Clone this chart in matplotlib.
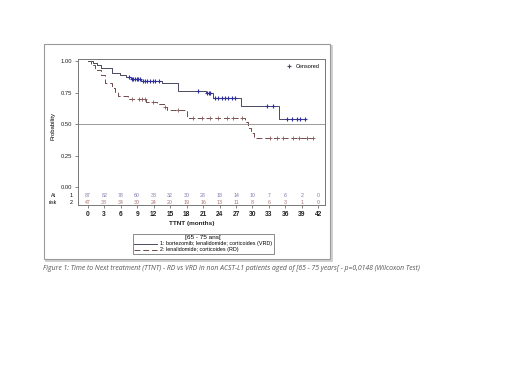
import numpy as np
import matplotlib
matplotlib.use("Agg")
import matplotlib.pyplot as plt
from matplotlib.lines import Line2D
from matplotlib.patches import Rectangle

# -----------------------------
# Data
# -----------------------------
# VRD arm (1: bortezomib, lenalidomide, corticoides)
times_vrd = [0, 0.9, 1.6, 2.5, 4.4, 5.9, 7.0, 7.9, 9.7, 13.6, 16.5, 21.6, 22.8, 27.9, 34.9]
surv_vrd = [1.0, 0.985, 0.97, 0.945, 0.905, 0.89, 0.878, 0.862, 0.844, 0.825, 0.766, 0.745, 0.706, 0.644, 0.538]
end_vrd = 39.5
censor_vrd = [7.6, 8.0, 8.3, 8.6, 8.9, 9.2, 9.5, 10.0, 10.4, 10.8, 11.3, 11.8, 12.3, 13.0,
              20.0, 21.7, 22.0, 22.3, 23.2, 23.8, 24.4, 25.0, 25.6, 26.2, 26.8,
              32.6, 33.8, 36.2, 37.2, 38.1, 38.7, 39.5]

# RD arm (2: lenalidomide, corticoides)
times_rd = [0, 0.6, 1.3, 2.5, 3.1, 4.4, 5.0, 5.6, 7.4, 10.7, 12.6, 13.8, 14.4, 18.0, 28.6, 29.2, 29.7, 30.3]
surv_rd = [1.0, 0.97, 0.935, 0.89, 0.83, 0.79, 0.758, 0.724, 0.697, 0.673, 0.657, 0.64, 0.61, 0.548,
           0.515, 0.47, 0.43, 0.386]
end_rd = 41.1
censor_rd = [8.1, 9.3, 9.9, 10.5, 11.8, 14.0, 16.5, 19.2, 20.8, 22.3, 23.8, 25.3, 26.5, 28.0,
             33.2, 34.4, 35.6, 37.4, 38.4, 39.9, 41.1]

# Numbers at risk
risk_times = [0, 3, 6, 9, 12, 15, 18, 21, 24, 27, 30, 33, 36, 39, 42]
risk_vrd = [87, 82, 78, 60, 38, 32, 30, 28, 18, 14, 10, 7, 6, 2, 0]
risk_rd = [47, 38, 34, 30, 24, 20, 19, 16, 13, 11, 8, 6, 3, 1, 0]

label_vrd = "1: bortezomib; lenalidomide; corticoides (VRD)"
label_rd = "2: lenalidomide; corticoides (RD)"
caption = ("Figure 1: Time to Next treatment (TTNT) - RD vs VRD in non ACST-L1 patients "
           "aged of [65 - 75 years[ - p=0,0148 (Wilcoxon Test)")

col_vrd = "#4a4a5e"
col_rd = "#6e4a4a"
col_cens_vrd = "#2f2fa0"
col_cens_rd = "#8a5a5a"


def surv_at(t, times, surv):
    idx = np.searchsorted(times, t, side="right") - 1
    return np.array(surv)[idx]


plt.rcParams["font.family"] = ["Liberation Sans", "DejaVu Sans"]

fig = plt.figure(figsize=(5.2, 3.68), dpi=100)

# outer frame with shadow (drawn behind the axes)
fig.add_artist(Rectangle((0.088, 0.291), 0.55, 0.584, transform=fig.transFigure,
                         fill=False, edgecolor="#c8c8c8", linewidth=1.2, zorder=-10))
fig.add_artist(Rectangle((0.0846, 0.296), 0.55, 0.584, transform=fig.transFigure,
                         facecolor="white", edgecolor="#9a9a9a", linewidth=0.8, zorder=-9))

ax = fig.add_axes([0.15, 0.443, 0.475, 0.397])
ax.set_facecolor("none")

# step curves
ax.step(times_vrd + [end_vrd], surv_vrd + [surv_vrd[-1]], where="post",
        color=col_vrd, linewidth=0.7)
ax.step(times_rd + [end_rd], surv_rd + [surv_rd[-1]], where="post",
        color=col_rd, linewidth=0.7, linestyle=(0, (6, 3)))

# censored marks
ax.plot(censor_vrd, surv_at(censor_vrd, times_vrd, surv_vrd), "+",
        color=col_cens_vrd, markersize=2.4, markeredgewidth=0.8)
ax.plot(censor_rd, surv_at(censor_rd, times_rd, surv_rd), "+",
        color=col_cens_rd, markersize=2.4, markeredgewidth=0.6)

ax.axhline(0.5, color="#8a8a8a", linewidth=0.6)

# numbers at risk inside the plot area
for t, n1, n2 in zip(risk_times, risk_vrd, risk_rd):
    ax.text(t, -0.072, str(n1), ha="center", va="center", fontsize=3.8, color="#7a7aa8")
    ax.text(t, -0.122, str(n2), ha="center", va="center", fontsize=3.8, color="#a87474")
ax.text(-6.3, -0.072, "At", ha="center", va="center", fontsize=3.8, clip_on=False)
ax.text(-6.3, -0.122, "risk", ha="center", va="center", fontsize=3.8, clip_on=False)
ax.text(-3.1, -0.072, "1", ha="center", va="center", fontsize=3.8, clip_on=False)
ax.text(-3.1, -0.122, "2", ha="center", va="center", fontsize=3.8, clip_on=False)

ax.set_xlim(-1.77, 43.2)
ax.set_ylim(-0.144, 1.02)
ax.set_xticks(risk_times)
ax.set_xticklabels([str(t) for t in risk_times], fontsize=4.8, fontweight="bold", color="#222222")
ax.set_yticks([0, 0.25, 0.5, 0.75, 1.0])
ax.set_yticklabels(["0.00", "0.25", "0.50", "0.75", "1.00"], fontsize=4.2, color="#222222")
ax.tick_params(axis="both", length=2.5, width=0.5, pad=1.5, color="#555555")
for sp in ax.spines.values():
    sp.set_color("#777777")
    sp.set_linewidth(0.7)

fig.text(0.102, 1 - 126 / 368, "Probability", rotation=90, ha="center", va="center", fontsize=4.3)
fig.text(0.369, 1 - 223 / 368, "TTNT (months)", ha="center", va="center",
         fontsize=4.6, fontweight="bold", color="#222222")

# censored legend inside the axes
cens_handle = Line2D([], [], marker="+", linestyle="none", color=col_vrd,
                     markersize=2.4, markeredgewidth=0.8)
ax.legend([cens_handle], ["Censored"], loc="upper right", frameon=False, fontsize=4,
          handletextpad=0.1, borderaxespad=0.6)

# arm legend below the axis
h1 = Line2D([], [], color=col_vrd, linewidth=0.7)
h2 = Line2D([], [], color=col_rd, linewidth=0.7, linestyle=(0, (6, 3)))
leg = fig.legend([h1, h2], [label_vrd, label_rd], title="[65 - 75 ans[",
                 loc="upper left", bbox_to_anchor=(0.25, 1 - 231 / 368),
                 fontsize=3.9, title_fontsize=4.6, fancybox=False, edgecolor="#555555",
                 handlelength=4.2, borderpad=0.3, labelspacing=0.2, handletextpad=0.5)
leg.get_frame().set_linewidth(0.6)

fig.text(43 / 520, 1 - 268 / 368, caption, ha="left", va="center", fontsize=4.95,
         style="italic", color="#555555", family=["Open Sans", "DejaVu Sans"])

fig.savefig("out.png", dpi=100, facecolor="white")
